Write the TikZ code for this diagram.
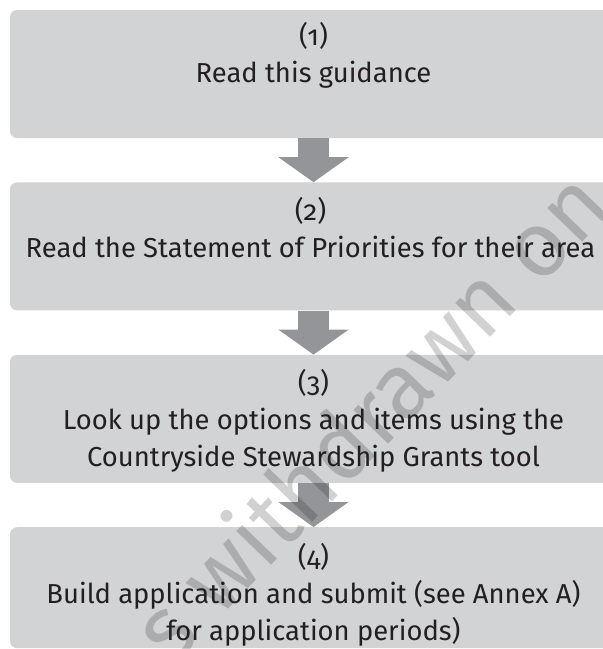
\documentclass[tikz,border=0pt]{standalone}
\usepackage{fontspec}
\setmainfont{Fira Sans}[Numbers=OldStyle]
\usetikzlibrary{arrows.meta,positioning}

\definecolor{boxgray}{HTML}{D1D3D4}
\definecolor{arrowgray}{HTML}{939598}
\definecolor{inkblack}{HTML}{231F20}

\begin{document}
\begin{tikzpicture}[
    x=1pt, y=1pt,
    node distance=44pt,
    box/.style={rectangle, fill=boxgray, rounded corners=7pt, minimum width=607pt,
                minimum height=128pt, inner sep=0pt},
    boxtext/.style={align=center, inner sep=0pt, text=inkblack,
                    font=\fontsize{27.4}{37}\selectfont},
    flowarrow/.style={draw=arrowgray, line width=31pt,
                      -{Triangle[width=69pt, length=25pt]}},
    watermark/.style={rotate=46, text=black, opacity=0.18, inner sep=0pt,
                      font=\fontsize{92}{92}\selectfont}
  ]
    \useasboundingbox (0,0) rectangle (603,-649);
    \clip (0,0) rectangle (603,-649);

    % the four steps, right edge runs off the page
    \node[box] (b1) at (313.5,-74) {};
    \node[box, below=of b1] (b2) {};
    \node[box, below=of b2] (b3) {};
    \node[box, below=of b3, minimum height=121pt] (b4) {};

    \foreach \a/\b in {b1/b2, b2/b3, b3/b4}
      \draw[flowarrow] (\a) -- (\b);

    % stamp sits under the step texts
    \node[watermark] (wm) at (368,-414) {s withdrawn on};

    \node[boxtext, below=12pt of b1.north] (t1) {(1)\\Read this guidance};
    \node[boxtext, below=15pt of b2.north, xshift=-3pt] (t2) {(2)\\Read the Statement of Priorities for their area};
    \node[boxtext, below=15pt of b3.north] (t3) {(3)\\Look up the options and items using the\\Countryside Stewardship Grants tool};
    \node[boxtext, below=16pt of b4.north] (t4) {(4)\\Build application and submit (see Annex A)\\for application periods)};
  \end{tikzpicture}
\end{document}
